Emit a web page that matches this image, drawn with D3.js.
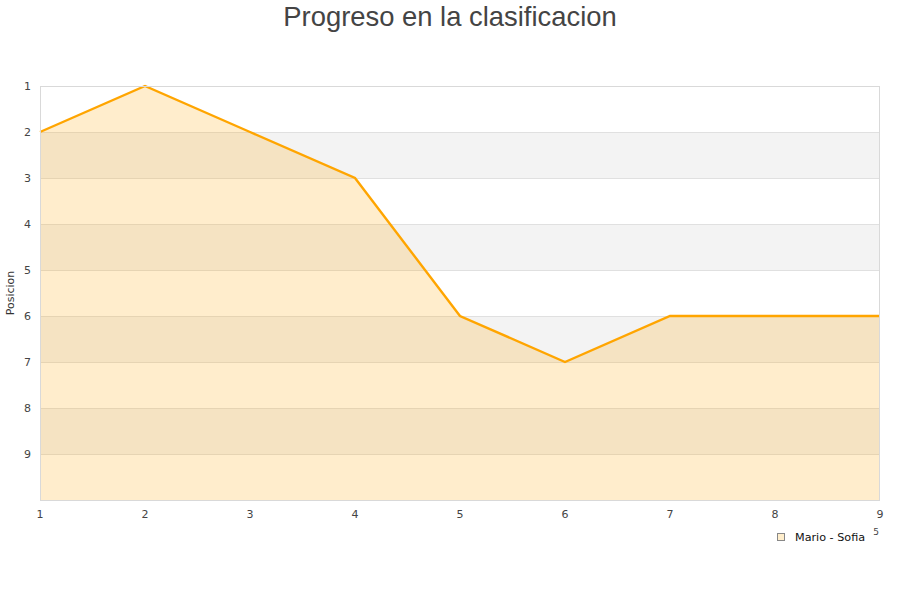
<!DOCTYPE html>
<html><head><meta charset="utf-8">
<script src="https://cdn.jsdelivr.net/npm/d3@7"></script>
<style>body{margin:0;background:#fff}svg{display:block}</style>
</head><body>
<svg id="c" width="900" height="600"></svg>
<script>
const jornadas = [1,2,3,4,5,6,7,8,9];
const posiciones = [2,1,2,3,6,7,6,6,6];
const yTicks = [1,2,3,4,5,6,7,8,9];
const seriesName = "Mario - Sofia";
const title = "Progreso en la clasificacion";
const yTitle = "Posicion";

const svg = d3.select("#c");
const L=40,R=880,T=86,B=500;
const x = d3.scaleLinear().domain([1,9]).range([L,R]);
const y = d3.scaleLinear().domain([1,10]).range([T,B]);

const bands = d3.range(1,10);
svg.selectAll("rect.band").data(bands).enter().append("rect")
  .attr("x",L).attr("width",R-L)
  .attr("y",d=>y(d)).attr("height",d=>y(d+1)-y(d))
  .attr("fill",d=>d%2===0?"#f3f3f3":"#ffffff");
svg.selectAll("line.grid").data(d3.range(2,10)).enter().append("line")
  .attr("x1",L).attr("x2",R).attr("y1",d=>y(d)+0.5).attr("y2",d=>y(d)+0.5)
  .attr("stroke","#e0e0e0").attr("stroke-width",1);

const pts = jornadas.map((j,i)=>[j,posiciones[i]]);
svg.append("path").datum(pts)
  .attr("d",d3.area().x(d=>x(d[0])).y0(y(10)).y1(d=>y(d[1])))
  .attr("fill","rgba(255,165,0,0.2)");
svg.append("path").datum(pts)
  .attr("d",d3.line().x(d=>x(d[0])).y(d=>y(d[1])))
  .attr("fill","none").attr("stroke","#ffa500").attr("stroke-width",2.4);

svg.append("rect").attr("x",L+0.5).attr("y",T+0.5).attr("width",R-L-1).attr("height",B-T)
  .attr("fill","none").attr("stroke","#d9d9d9");

const font="DejaVu Sans, sans-serif";
svg.selectAll("text.yt").data(yTicks).enter().append("text")
  .attr("x",31).attr("y",d=>y(d)).attr("dy","0.35em").attr("text-anchor","end")
  .attr("font-family",font).attr("font-size",11).attr("fill","#444").text(d=>d);
svg.selectAll("text.xt").data(jornadas).enter().append("text")
  .attr("x",d=>x(d)).attr("y",514).attr("dy","0.35em").attr("text-anchor","middle")
  .attr("font-family",font).attr("font-size",11).attr("fill","#444").text(d=>d);

svg.append("text").attr("transform","translate(14,293) rotate(-90)")
  .attr("text-anchor","middle").attr("font-family",font).attr("font-size",11)
  .attr("fill","#333").text(yTitle);

svg.append("text").attr("x",450).attr("y",16).attr("dy","0.35em").attr("text-anchor","middle")
  .attr("font-family","Liberation Sans, Arial, sans-serif").attr("font-size",27.4)
  .attr("fill","#444").text(title);

svg.append("rect").attr("x",777.5).attr("y",533.5).attr("width",7).attr("height",7)
  .attr("fill","#ffeecc").attr("stroke","#888");
svg.append("text").attr("x",795).attr("y",537).attr("dy","0.35em")
  .attr("font-family",font).attr("font-size",11.2).attr("fill","#111").text(seriesName);
svg.append("text").attr("x",876).attr("y",535).attr("text-anchor","middle")
  .attr("font-family",font).attr("font-size",9).attr("fill","#444").text("5");
</script>
</body></html>
